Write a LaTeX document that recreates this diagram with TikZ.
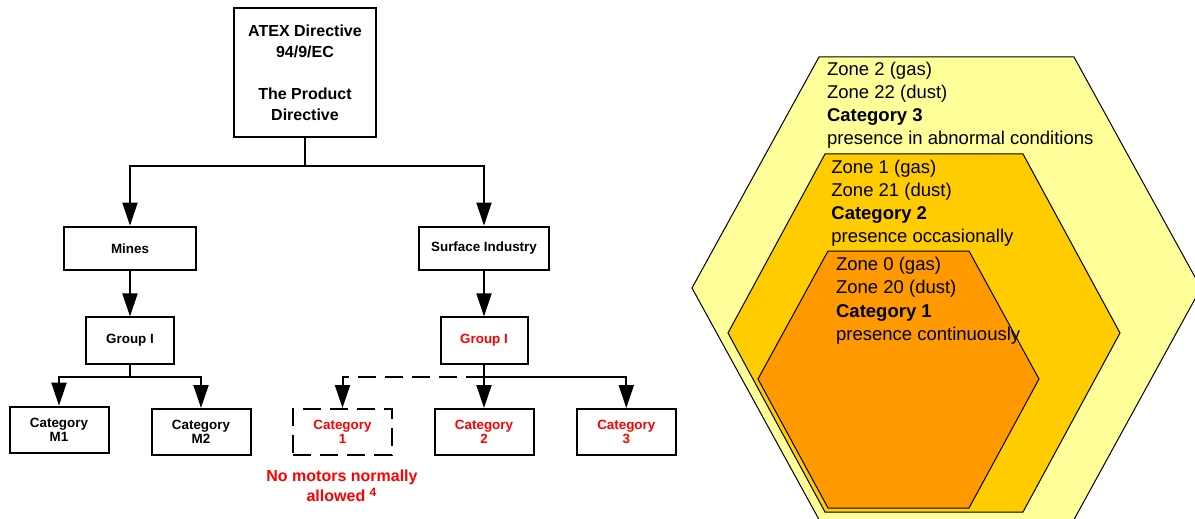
\documentclass[tikz,border=0pt]{standalone}
\usepackage{fontspec}
\setmainfont{Liberation Sans}
\usepackage{xcolor}
\usetikzlibrary{positioning,arrows.meta,calc}

\definecolor{zonetwo}{HTML}{FFFF99}
\definecolor{zoneone}{HTML}{FFCC00}
\definecolor{zonezero}{HTML}{FF9900}

\tikzset{
  box/.style={draw, line width=1pt, align=center, inner sep=0pt,
    minimum width=#1, font=\fontsize{6.7pt}{7.3pt}\selectfont\bfseries},
  box/.default=49.5pt,
  link/.style={line width=1pt, -{Triangle[length=11.5pt,width=7.5pt]}},
  hex/.style={draw, line width=0.5pt},
  zonetext/.style={anchor=north west, inner sep=0pt, align=left,
    font=\fontsize{9.25pt}{11.55pt}\selectfont},
  dashline/.style={dash pattern=on 9pt off 4.5pt}
}

\begin{document}
\begin{tikzpicture}[x=0.5pt,y=-0.5pt]
  \useasboundingbox (0,0) rectangle (1195,519);

  % product directive tree
  \node[box=70.8pt, minimum height=64.2pt, font=\fontsize{8pt}{10.5pt}\selectfont\bfseries]
    (atex) at (305,72.5) {ATEX Directive\\94/9/EC\\[10.5pt]The Product\\Directive};
  \node[box=65.8pt, minimum height=21.7pt] (mines) at (130,248.3) {Mines};
  \node[box=65.3pt, minimum height=21.7pt] (surf) at (484,248.3) {Surface Industry};
  \node[box=44pt, minimum height=23.3pt] (grpL) at (130,340.7) {Group I};
  \node[box=43.5pt, minimum height=23.3pt, text=red] (grpR) at (484,340.7) {Group I};
  \node[box, minimum height=23.3pt] (catM1) at (59,430) {Category\\M1};
  \node[box, minimum height=23pt] (catM2) at (201,432) {Category\\M2};
  \node[box, minimum height=23pt, text=red, dashline] (cat1) at (342.5,432) {Category\\1};
  \node[box, minimum height=23pt, text=red] (cat2) at (484,432) {Category\\2};
  \node[box, minimum height=23pt, text=red] (cat3) at (626.3,432) {Category\\3};
  \node[text=red, align=center, inner sep=0pt, font=\fontsize{8pt}{10pt}\selectfont\bfseries]
    (note) at (342,486) {No motors normally\\allowed \textsuperscript{4}};

  \coordinate (j0) at (305,166);
  \coordinate (j1) at (130,377);
  \coordinate (j2) at (484,377);
  \draw[line width=1pt] (atex) -- (j0);
  \draw[link] (j0) -| (mines);
  \draw[link] (j0) -| (surf);
  \draw[link] (mines) -- (grpL);
  \draw[link] (surf) -- (grpR);
  \draw[line width=1pt] (grpL) -- (j1);
  \draw[link] (j1) -| (catM1);
  \draw[link] (j1) -| (catM2);
  \draw[link] (grpR) -- (cat2);
  \draw[link] (j2) -| (cat3);
  \draw[link, dashline] (j2) -| (cat1);

  % zones
  \draw[hex, fill=zonetwo] (819,57) -- (1074,57) -- (1201,288) -- (1071,525) -- (822,525) -- (692,288) -- cycle;
  \draw[hex, fill=zoneone] (825,154) -- (1023,154) -- (1120,333) -- (1023,512) -- (825,512) -- (728,333) -- cycle;
  \draw[hex, fill=zonezero] (828,251) -- (969,251) -- (1039,379) -- (969,508) -- (828,508) -- (758,379) -- cycle;

  \node[zonetext] (zone2) at (826.7,61.5)
    {Zone 2 (gas)\\Zone 22 (dust)\\\textbf{Category 3}\\presence in abnormal conditions};
  \node[zonetext] (zone1) at (831,159.5)
    {Zone 1 (gas)\\Zone 21 (dust)\\\textbf{Category 2}\\presence occasionally};
  \node[zonetext] (zone0) at (835.7,257)
    {Zone 0 (gas)\\Zone 20 (dust)\\\textbf{Category 1}\\presence continuously};
\end{tikzpicture}
\end{document}
